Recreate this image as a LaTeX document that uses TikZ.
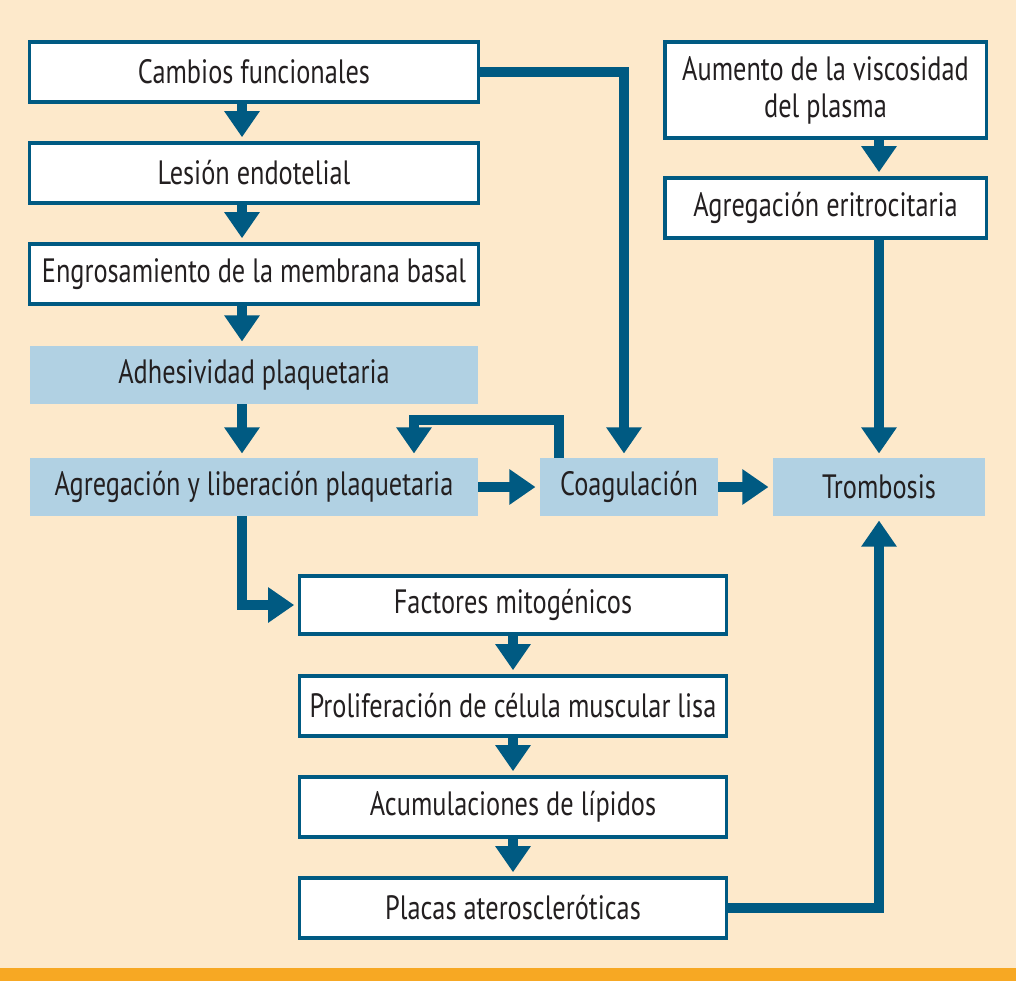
\documentclass[tikz,border=0pt]{standalone}
\usepackage{fontspec}
\setmainfont[FakeStretch=0.78]{PT Sans}
\usetikzlibrary{arrows.meta}
\definecolor{fondo}{HTML}{FDE9CB}
\definecolor{naranja}{HTML}{F7A823}
\definecolor{azul}{HTML}{005A82}
\definecolor{celeste}{HTML}{B1D1E3}
\definecolor{texto}{HTML}{231F20}

\begin{document}
\begin{tikzpicture}[x=0.025cm,y=-0.025cm,
	caja/.style={draw=azul,line width=2.2pt,fill=white,minimum height=1.5cm,inner sep=0pt,
		text=texto,align=center,font=\fontsize{24}{26.3}\selectfont},
	plaq/.style={fill=celeste,minimum height=1.45cm,inner sep=0pt,
		text=texto,align=center,font=\fontsize{24}{26.3}\selectfont},
	flecha/.style={draw=azul,line width=7.1pt,-{Triangle[width=24pt,length=18.5pt]},shorten >=3pt}]
	
	\fill[fondo] (0,0) rectangle (1016,981);
	\fill[naranja] (0,968) rectangle (1016,981);
	
	\node[caja,minimum width=11.2cm] (cambios) at (254,72) {Cambios funcionales};
	\node[caja,minimum width=11.2cm] (lesion) at (254,173) {Lesión endotelial};
	\node[caja,minimum width=11.2cm] (engros) at (254,274) {Engrosamiento de la membrana basal};
	\node[plaq,minimum width=11.2cm] (adhes) at (254,375) {Adhesividad plaquetaria};
	\node[plaq,minimum width=11.2cm] (agreg) at (254,487) {Agregación y liberación plaquetaria};
	\node[plaq,minimum width=4.45cm] (coag) at (629,487) {Coagulación};
	\node[plaq,minimum width=5.3cm] (tromb) at (879,487) {Trombosis};
	
	\node[caja,minimum width=8.025cm,minimum height=2.4cm] (aumento) at (825.5,90) {
		Aumento de la viscosidad\\
		del plasma
	};
	\node[caja,minimum width=8.025cm] (eritro) at (825.5,208) {Agregación eritrocitaria};
	
	\node[caja,minimum width=10.65cm,minimum height=1.45cm] (factores) at (513,605) {Factores mitogénicos};
	\node[caja,minimum width=10.65cm] (prolif) at (513,706) {Proliferación de célula muscular lisa};
	\node[caja,minimum width=10.65cm] (acum) at (513,807) {Acumulaciones de lípidos};
	\node[caja,minimum width=10.65cm] (placas) at (513,908) {Placas ateroscleróticas};
	
	\coordinate (izq) at (242,0);
	\coordinate (der) at (879,0);
	\coordinate (baja) at (624,0);
	\coordinate (vuelta) at (559,0);
	\coordinate (retro) at (414,420);
	
	\draw[flecha] (cambios.south -| izq)--(lesion.north -| izq);
	\draw[flecha] (lesion.south -| izq)--(engros.north -| izq);
	\draw[flecha] (engros.south -| izq)--(adhes.north -| izq);
	\draw[flecha] (adhes.south -| izq)--(agreg.north -| izq);
	\draw[flecha] (agreg.south -| izq) |- (factores.west);
	
	\draw[flecha] (cambios.east) -| (coag.north -| baja);
	\draw[flecha] (coag.north -| vuelta) |- (retro)--(agreg.north -| retro);
	\draw[flecha] (agreg.east)--(coag.west);
	\draw[flecha] (coag.east)--(tromb.west);
	
	\draw[flecha] (aumento.south -| der)--(eritro.north -| der);
	\draw[flecha] (eritro.south -| der)--(tromb.north);
	
	\draw[flecha] (factores.south)--(prolif.north);
	\draw[flecha] (prolif.south)--(acum.north);
	\draw[flecha] (acum.south)--(placas.north);
	\draw[flecha] (placas.east) -| (tromb.south);
\end{tikzpicture}
\end{document}
